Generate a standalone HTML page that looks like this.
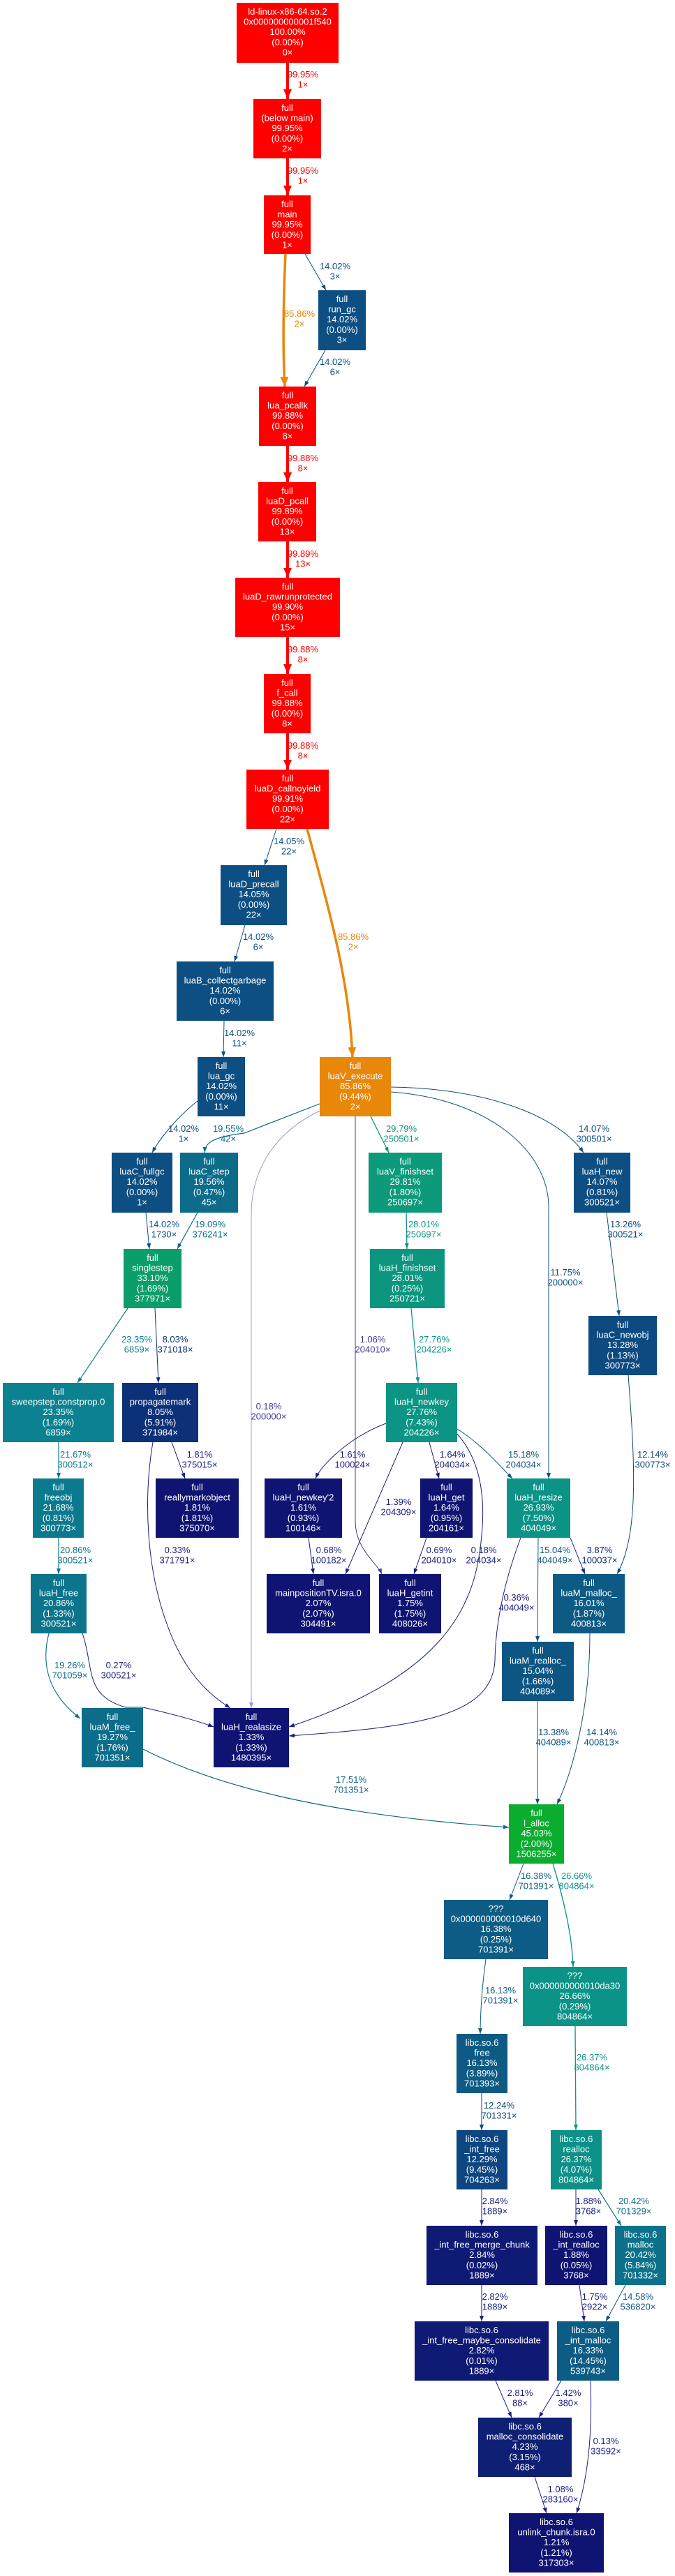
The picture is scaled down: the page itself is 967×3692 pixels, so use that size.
<!DOCTYPE html>
<html><head><meta charset="utf-8"><style>
html,body{margin:0;padding:0;background:#fff;}
svg{display:block;}
.nt{font-family:"Liberation Sans",sans-serif;font-size:13px;fill:#fff;text-anchor:middle;}
.lb{font-family:"Liberation Sans",sans-serif;font-size:13px;text-anchor:middle;}
</style></head><body>
<svg width="967" height="3692" viewBox="0 0 967 3692" xmlns="http://www.w3.org/2000/svg">
<defs>
<marker id="mR" markerUnits="userSpaceOnUse" markerWidth="14" markerHeight="14" refX="14" refY="7" orient="auto"><path d="M0,1 L14,7 L0,13 z" fill="#ff0000"/></marker>
<marker id="mO" markerUnits="userSpaceOnUse" markerWidth="14" markerHeight="14" refX="14" refY="7" orient="auto"><path d="M0,1 L14,7 L0,13 z" fill="#e8870a"/></marker>
<marker id="mB" markerUnits="userSpaceOnUse" markerWidth="8" markerHeight="6" refX="8" refY="3" orient="auto"><path d="M0,0 L8,3 L0,6 z" fill="#0d4f82"/></marker>
<marker id="mS" markerUnits="userSpaceOnUse" markerWidth="8" markerHeight="6" refX="8" refY="3" orient="auto"><path d="M0,0 L8,3 L0,6 z" fill="#0c6c8a"/></marker>
<marker id="mT" markerUnits="userSpaceOnUse" markerWidth="8" markerHeight="6" refX="8" refY="3" orient="auto"><path d="M0,0 L8,3 L0,6 z" fill="#0c9a7b"/></marker>
<marker id="mT2" markerUnits="userSpaceOnUse" markerWidth="8" markerHeight="6" refX="8" refY="3" orient="auto"><path d="M0,0 L8,3 L0,6 z" fill="#0c9484"/></marker>
<marker id="mC" markerUnits="userSpaceOnUse" markerWidth="8" markerHeight="6" refX="8" refY="3" orient="auto"><path d="M0,0 L8,3 L0,6 z" fill="#0c8190"/></marker>
<marker id="mP" markerUnits="userSpaceOnUse" markerWidth="8" markerHeight="6" refX="8" refY="3" orient="auto"><path d="M0,0 L8,3 L0,6 z" fill="#0d3178"/></marker>
<marker id="mF" markerUnits="userSpaceOnUse" markerWidth="8" markerHeight="6" refX="8" refY="3" orient="auto"><path d="M0,0 L8,3 L0,6 z" fill="#0c748b"/></marker>
<marker id="mN" markerUnits="userSpaceOnUse" markerWidth="8" markerHeight="6" refX="8" refY="3" orient="auto"><path d="M0,0 L8,3 L0,6 z" fill="#1a1f80"/></marker>
<marker id="mM" markerUnits="userSpaceOnUse" markerWidth="8" markerHeight="6" refX="8" refY="3" orient="auto"><path d="M0,0 L8,3 L0,6 z" fill="#0d5b84"/></marker>
<marker id="mD" markerUnits="userSpaceOnUse" markerWidth="8" markerHeight="6" refX="8" refY="3" orient="auto"><path d="M0,0 L8,3 L0,6 z" fill="#0c9387"/></marker>
<marker id="mI" markerUnits="userSpaceOnUse" markerWidth="8" markerHeight="6" refX="8" refY="3" orient="auto"><path d="M0,0 L8,3 L0,6 z" fill="#0d4680"/></marker>
<marker id="mK" markerUnits="userSpaceOnUse" markerWidth="8" markerHeight="6" refX="8" refY="3" orient="auto"><path d="M0,0 L8,3 L0,6 z" fill="#0c728b"/></marker>
<marker id="mL" markerUnits="userSpaceOnUse" markerWidth="8" markerHeight="6" refX="8" refY="3" orient="auto"><path d="M0,0 L8,3 L0,6 z" fill="#9a9ad6"/></marker>
<marker id="mU" markerUnits="userSpaceOnUse" markerWidth="8" markerHeight="6" refX="8" refY="3" orient="auto"><path d="M0,0 L8,3 L0,6 z" fill="#3c3c96"/></marker>
</defs>

<!-- EDGES -->
<g fill="none">
<path d="M412,90 L412,142" stroke="#ff0000" stroke-width="4" marker-end="url(#mR)"/>
<path d="M412,227 L412,280" stroke="#ff0000" stroke-width="4" marker-end="url(#mR)"/>
<path d="M409,364 C406,430 405,500 408,554" stroke="#e8870a" stroke-width="3.5" marker-end="url(#mO)"/>
<path d="M437,364 L467,416" stroke="#0d4f82" stroke-width="1" marker-end="url(#mB)"/>
<path d="M466,502 L436,554" stroke="#0d4f82" stroke-width="1" marker-end="url(#mB)"/>
<path d="M412,639 L412,691" stroke="#ff0000" stroke-width="4" marker-end="url(#mR)"/>
<path d="M412,776 L412,828" stroke="#ff0000" stroke-width="4" marker-end="url(#mR)"/>
<path d="M412,913 L412,966" stroke="#ff0000" stroke-width="4" marker-end="url(#mR)"/>
<path d="M412,1051 L412,1103" stroke="#ff0000" stroke-width="4" marker-end="url(#mR)"/>
<path d="M396,1188 L379,1240" stroke="#0d4f82" stroke-width="1" marker-end="url(#mB)"/>
<path d="M440,1188 C470,1300 500,1400 505,1515" stroke="#e8870a" stroke-width="3.5" marker-end="url(#mO)"/>
<path d="M351,1326 L336,1378" stroke="#0d4f82" stroke-width="1" marker-end="url(#mB)"/>
<path d="M321,1463 L320,1515" stroke="#0d4f82" stroke-width="1" marker-end="url(#mB)"/>
<path d="M283,1578 C255,1600 230,1630 218,1652" stroke="#0d4f82" stroke-width="1" marker-end="url(#mB)"/>
<path d="M458,1582 L350,1624 C300,1630 294,1640 293,1652" stroke="#0c6c8a" stroke-width="1.2" marker-end="url(#mS)"/>
<path d="M531,1600 L557,1652" stroke="#0c9a7b" stroke-width="1.3" marker-end="url(#mT)"/>
<path d="M560,1558 C700,1560 800,1600 836,1652" stroke="#0d4f82" stroke-width="1" marker-end="url(#mB)"/>
<path d="M560,1565 C700,1575 786,1650 786,1730 L786,2119" stroke="#0d5382" stroke-width="1" marker-end="url(#mB)"/>
<path d="M458,1592 C400,1620 360,1670 360,1740 L360,2448" stroke="#9a9ad6" stroke-width="1" marker-end="url(#mL)"/>
<path d="M509,1600 L509,2180 C509,2220 540,2240 547,2256" stroke="#3c3c96" stroke-width="1" marker-end="url(#mU)"/>
<path d="M209,1738 L214,1790" stroke="#0d4f82" stroke-width="1" marker-end="url(#mB)"/>
<path d="M283,1738 L254,1790" stroke="#0c6c8a" stroke-width="1.2" marker-end="url(#mS)"/>
<path d="M582,1738 L583,1790" stroke="#0c9484" stroke-width="1.3" marker-end="url(#mT2)"/>
<path d="M869,1738 L887,1886" stroke="#0d4a80" stroke-width="1" marker-end="url(#mB)"/>
<path d="M589,1875 L599,1982" stroke="#0c9484" stroke-width="1.3" marker-end="url(#mT2)"/>
<path d="M183,1875 L111,1982" stroke="#0c8190" stroke-width="1.2" marker-end="url(#mC)"/>
<path d="M222,1875 L227,1982" stroke="#0d3178" stroke-width="1" marker-end="url(#mP)"/>
<path d="M900,1971 C910,2100 915,2200 884,2256" stroke="#0d4780" stroke-width="1" marker-end="url(#mB)"/>
<path d="M84,2067 L84,2119" stroke="#0c7a8e" stroke-width="1.2" marker-end="url(#mF)"/>
<path d="M246,2067 L265,2119" stroke="#1a1f80" stroke-width="1" marker-end="url(#mN)"/>
<path d="M553,2040 C500,2060 460,2100 452,2119" stroke="#1a1f80" stroke-width="1" marker-end="url(#mN)"/>
<path d="M615,2067 L629,2119" stroke="#1a1f80" stroke-width="1" marker-end="url(#mN)"/>
<path d="M655,2048 C690,2070 715,2100 734,2119" stroke="#0d5683" stroke-width="1" marker-end="url(#mB)"/>
<path d="M577,2067 C550,2130 510,2220 495,2256" stroke="#1a1f80" stroke-width="1" marker-end="url(#mN)"/>
<path d="M655,2055 C690,2095 695,2150 690,2200 C682,2300 640,2400 414,2475" stroke="#1a1f80" stroke-width="1" marker-end="url(#mN)"/>
<path d="M746,2204 C725,2260 710,2320 709,2380 C705,2460 600,2475 414,2488" stroke="#1a1f80" stroke-width="1" marker-end="url(#mN)"/>
<path d="M84,2204 L84,2256" stroke="#0c748b" stroke-width="1.2" marker-end="url(#mF)"/>
<path d="M219,2067 C205,2150 210,2250 240,2330 C258,2380 285,2420 330,2448" stroke="#1a1f80" stroke-width="1" marker-end="url(#mN)"/>
<path d="M442,2204 L449,2256" stroke="#1a1f80" stroke-width="1" marker-end="url(#mN)"/>
<path d="M611,2204 L593,2256" stroke="#1a1f80" stroke-width="1" marker-end="url(#mN)"/>
<path d="M771,2204 L770,2353" stroke="#0d5583" stroke-width="1" marker-end="url(#mB)"/>
<path d="M817,2204 L838,2256" stroke="#0d2a77" stroke-width="1" marker-end="url(#mP)"/>
<path d="M70,2341 C60,2380 65,2425 115,2463" stroke="#0c6d8a" stroke-width="1.2" marker-end="url(#mS)"/>
<path d="M118,2341 C135,2390 120,2430 180,2447 L205,2447 C240,2455 280,2465 306,2475" stroke="#1a1f80" stroke-width="1" marker-end="url(#mN)"/>
<path d="M205,2507 C300,2555 450,2600 729,2619" stroke="#0c6488" stroke-width="1.2" marker-end="url(#mS)"/>
<path d="M770,2438 L770,2586" stroke="#0d4e81" stroke-width="1" marker-end="url(#mB)"/>
<path d="M845,2341 C845,2450 820,2540 798,2586" stroke="#0d5080" stroke-width="1" marker-end="url(#mB)"/>
<path d="M750,2671 L730,2723" stroke="#0d5b84" stroke-width="1" marker-end="url(#mM)"/>
<path d="M792,2671 C810,2730 820,2780 821,2819" stroke="#0c9387" stroke-width="1.3" marker-end="url(#mD)"/>
<path d="M696,2808 C690,2850 688,2890 688,2915" stroke="#0d5b84" stroke-width="1" marker-end="url(#mM)"/>
<path d="M824,2904 L825,3053" stroke="#0c9387" stroke-width="1.3" marker-end="url(#mD)"/>
<path d="M690,3000 L690,3053" stroke="#0d4680" stroke-width="1" marker-end="url(#mI)"/>
<path d="M690,3138 L690,3190" stroke="#1a1f80" stroke-width="1" marker-end="url(#mN)"/>
<path d="M825,3138 L825,3190" stroke="#1a1f80" stroke-width="1" marker-end="url(#mN)"/>
<path d="M857,3138 L890,3190" stroke="#0c728b" stroke-width="1.2" marker-end="url(#mK)"/>
<path d="M690,3275 L690,3327" stroke="#1a1f80" stroke-width="1" marker-end="url(#mN)"/>
<path d="M830,3275 L837,3327" stroke="#1a1f80" stroke-width="1" marker-end="url(#mN)"/>
<path d="M896,3275 L868,3327" stroke="#0d5683" stroke-width="1" marker-end="url(#mB)"/>
<path d="M710,3412 L733,3465" stroke="#1a1f80" stroke-width="1" marker-end="url(#mN)"/>
<path d="M804,3412 L772,3465" stroke="#1a1f80" stroke-width="1" marker-end="url(#mN)"/>
<path d="M846,3412 C848,3470 846,3540 826,3602" stroke="#1a1f80" stroke-width="1" marker-end="url(#mN)"/>
<path d="M766,3550 L783,3602" stroke="#1a1f80" stroke-width="1" marker-end="url(#mN)"/>
</g>

<!-- EDGE LABELS -->
<g class="lb">
<text x="434" y="111" fill="#ff0000">99.95%<tspan x="434" dy="14.6">1×</tspan></text>
<text x="434" y="249" fill="#ff0000">99.95%<tspan x="434" dy="14.6">1×</tspan></text>
<text x="429" y="454" fill="#e8870a">85.86%<tspan x="429" dy="14.6">2×</tspan></text>
<text x="480" y="386" fill="#0d4f82">14.02%<tspan x="480" dy="14.6">3×</tspan></text>
<text x="480" y="523" fill="#0d4f82">14.02%<tspan x="480" dy="14.6">6×</tspan></text>
<text x="434" y="661" fill="#ff0000">99.88%<tspan x="434" dy="14.6">8×</tspan></text>
<text x="434" y="798" fill="#ff0000">99.89%<tspan x="434" dy="14.6">13×</tspan></text>
<text x="434" y="935" fill="#ff0000">99.88%<tspan x="434" dy="14.6">8×</tspan></text>
<text x="434" y="1073" fill="#ff0000">99.88%<tspan x="434" dy="14.6">8×</tspan></text>
<text x="414" y="1210" fill="#0d4f82">14.05%<tspan x="414" dy="14.6">22×</tspan></text>
<text x="506" y="1347" fill="#e8870a">85.86%<tspan x="506" dy="14.6">2×</tspan></text>
<text x="370" y="1347" fill="#0d4f82">14.02%<tspan x="370" dy="14.6">6×</tspan></text>
<text x="343" y="1485" fill="#0d4f82">14.02%<tspan x="343" dy="14.6">11×</tspan></text>
<text x="263" y="1622" fill="#0d4f82">14.02%<tspan x="263" dy="14.6">1×</tspan></text>
<text x="327" y="1622" fill="#0c6c8a">19.55%<tspan x="327" dy="14.6">42×</tspan></text>
<text x="575" y="1622" fill="#0c9a7b">29.79%<tspan x="575" dy="14.6">250501×</tspan></text>
<text x="851" y="1622" fill="#0d4f82">14.07%<tspan x="851" dy="14.6">300501×</tspan></text>
<text x="235" y="1759" fill="#0d4f82">14.02%<tspan x="235" dy="14.6">1730×</tspan></text>
<text x="301" y="1759" fill="#0c6c8a">19.09%<tspan x="301" dy="14.6">376241×</tspan></text>
<text x="607" y="1759" fill="#0c9484">28.01%<tspan x="607" dy="14.6">250697×</tspan></text>
<text x="896" y="1759" fill="#0d4a80">13.26%<tspan x="896" dy="14.6">300521×</tspan></text>
<text x="810" y="1828" fill="#0d5382">11.75%<tspan x="810" dy="14.6">200000×</tspan></text>
<text x="196" y="1924" fill="#0c8190">23.35%<tspan x="196" dy="14.6">6859×</tspan></text>
<text x="251" y="1924" fill="#0d3178">8.03%<tspan x="251" dy="14.6">371018×</tspan></text>
<text x="534" y="1924" fill="#3c3c96">1.06%<tspan x="534" dy="14.6">204010×</tspan></text>
<text x="622" y="1924" fill="#0c9484">27.76%<tspan x="622" dy="14.6">204226×</tspan></text>
<text x="385" y="2020" fill="#3c3c96">0.18%<tspan x="385" dy="14.6">200000×</tspan></text>
<text x="108" y="2089" fill="#0c7a8e">21.67%<tspan x="108" dy="14.6">300512×</tspan></text>
<text x="286" y="2089" fill="#1a1f80">1.81%<tspan x="286" dy="14.6">375015×</tspan></text>
<text x="505" y="2089" fill="#1a1f80">1.61%<tspan x="505" dy="14.6">100024×</tspan></text>
<text x="648" y="2089" fill="#1a1f80">1.64%<tspan x="648" dy="14.6">204034×</tspan></text>
<text x="750" y="2089" fill="#0d5683">15.18%<tspan x="750" dy="14.6">204034×</tspan></text>
<text x="935" y="2089" fill="#0d4780">12.14%<tspan x="935" dy="14.6">300773×</tspan></text>
<text x="571" y="2157" fill="#1a1f80">1.39%<tspan x="571" dy="14.6">204309×</tspan></text>
<text x="108" y="2226" fill="#0c748b">20.86%<tspan x="108" dy="14.6">300521×</tspan></text>
<text x="254" y="2226" fill="#1a1f80">0.33%<tspan x="254" dy="14.6">371791×</tspan></text>
<text x="471" y="2226" fill="#1a1f80">0.68%<tspan x="471" dy="14.6">100182×</tspan></text>
<text x="629" y="2226" fill="#1a1f80">0.69%<tspan x="629" dy="14.6">204010×</tspan></text>
<text x="693" y="2226" fill="#1a1f80">0.18%<tspan x="693" dy="14.6">204034×</tspan></text>
<text x="795" y="2226" fill="#0d5583">15.04%<tspan x="795" dy="14.6">404049×</tspan></text>
<text x="859" y="2226" fill="#0d2a77">3.87%<tspan x="859" dy="14.6">100037×</tspan></text>
<text x="740" y="2294" fill="#1a1f80">0.36%<tspan x="740" dy="14.6">404049×</tspan></text>
<text x="100" y="2391" fill="#0c6d8a">19.26%<tspan x="100" dy="14.6">701059×</tspan></text>
<text x="170" y="2391" fill="#1a1f80">0.27%<tspan x="170" dy="14.6">300521×</tspan></text>
<text x="793" y="2487" fill="#0d4e81">13.38%<tspan x="793" dy="14.6">404089×</tspan></text>
<text x="862" y="2487" fill="#0d5080">14.14%<tspan x="862" dy="14.6">400813×</tspan></text>
<text x="503" y="2555" fill="#0c6488">17.51%<tspan x="503" dy="14.6">701351×</tspan></text>
<text x="768" y="2693" fill="#0d5b84">16.38%<tspan x="768" dy="14.6">701391×</tspan></text>
<text x="826" y="2693" fill="#0c9387">26.66%<tspan x="826" dy="14.6">804864×</tspan></text>
<text x="717" y="2857" fill="#0d5b84">16.13%<tspan x="717" dy="14.6">701391×</tspan></text>
<text x="848" y="2953" fill="#0c9387">26.37%<tspan x="848" dy="14.6">804864×</tspan></text>
<text x="715" y="3022" fill="#0d4680">12.24%<tspan x="715" dy="14.6">701331×</tspan></text>
<text x="709" y="3159" fill="#1a1f80">2.84%<tspan x="709" dy="14.6">1889×</tspan></text>
<text x="843" y="3159" fill="#1a1f80">1.88%<tspan x="843" dy="14.6">3768×</tspan></text>
<text x="908" y="3159" fill="#0c728b">20.42%<tspan x="908" dy="14.6">701329×</tspan></text>
<text x="709" y="3296" fill="#1a1f80">2.82%<tspan x="709" dy="14.6">1889×</tspan></text>
<text x="852" y="3296" fill="#1a1f80">1.75%<tspan x="852" dy="14.6">2922×</tspan></text>
<text x="914" y="3296" fill="#0d5683">14.58%<tspan x="914" dy="14.6">536820×</tspan></text>
<text x="745" y="3434" fill="#1a1f80">2.81%<tspan x="745" dy="14.6">88×</tspan></text>
<text x="814" y="3434" fill="#1a1f80">1.42%<tspan x="814" dy="14.6">380×</tspan></text>
<text x="868" y="3503" fill="#1a1f80">0.13%<tspan x="868" dy="14.6">33592×</tspan></text>
<text x="803" y="3572" fill="#1a1f80">1.08%<tspan x="803" dy="14.6">283160×</tspan></text>
</g>

<!-- NODES -->
<g>
<rect x="339" y="4" width="146" height="86" fill="#ff0000"/>
<rect x="363" y="142" width="97" height="85" fill="#ff0000"/>
<rect x="378" y="280" width="67" height="84" fill="#ff0000"/>
<rect x="456" y="416" width="68" height="86" fill="#0d4f82"/>
<rect x="371" y="554" width="82" height="85" fill="#ff0000"/>
<rect x="370" y="691" width="83" height="85" fill="#ff0000"/>
<rect x="337" y="828" width="150" height="85" fill="#ff0000"/>
<rect x="378" y="966" width="67" height="85" fill="#ff0000"/>
<rect x="353" y="1103" width="118" height="85" fill="#ff0000"/>
<rect x="316" y="1240" width="95" height="86" fill="#0d4f82"/>
<rect x="253" y="1378" width="139" height="85" fill="#0d4f82"/>
<rect x="283" y="1515" width="68" height="85" fill="#0d4f82"/>
<rect x="458" y="1515" width="102" height="85" fill="#e8870a"/>
<rect x="160" y="1652" width="87" height="86" fill="#0d4f82"/>
<rect x="258" y="1652" width="83" height="86" fill="#0c6c8a"/>
<rect x="528" y="1652" width="105" height="86" fill="#0c9a7b"/>
<rect x="822" y="1652" width="81" height="86" fill="#0d4f82"/>
<rect x="177" y="1790" width="83" height="85" fill="#0c9e6a"/>
<rect x="530" y="1790" width="107" height="85" fill="#0c967f"/>
<rect x="843" y="1886" width="98" height="85" fill="#0d4a80"/>
<rect x="4" y="1982" width="159" height="85" fill="#0c8190"/>
<rect x="175" y="1982" width="109" height="85" fill="#0d3178"/>
<rect x="553" y="1982" width="102" height="85" fill="#0c9484"/>
<rect x="223" y="2119" width="119" height="85" fill="#0f1472"/>
<rect x="379" y="2119" width="111" height="85" fill="#0f1472"/>
<rect x="602" y="2119" width="75" height="85" fill="#0f1472"/>
<rect x="726" y="2119" width="91" height="85" fill="#0c9386"/>
<rect x="47" y="2119" width="73" height="85" fill="#0c7a8e"/>
<rect x="44" y="2256" width="80" height="85" fill="#0c748b"/>
<rect x="382" y="2256" width="148" height="85" fill="#0f1472"/>
<rect x="543" y="2256" width="89" height="85" fill="#0f1472"/>
<rect x="792" y="2256" width="103" height="85" fill="#0d5b84"/>
<rect x="719" y="2353" width="103" height="85" fill="#0d5583"/>
<rect x="117" y="2448" width="88" height="85" fill="#0c6d8a"/>
<rect x="306" y="2448" width="108" height="85" fill="#0f1472"/>
<rect x="729" y="2586" width="79" height="85" fill="#0aad2e"/>
<rect x="636" y="2723" width="149" height="85" fill="#0d5c85"/>
<rect x="749" y="2819" width="149" height="85" fill="#0c9387"/>
<rect x="654" y="2915" width="73" height="85" fill="#0d5b84"/>
<rect x="654" y="3053" width="73" height="85" fill="#0d4680"/>
<rect x="789" y="3053" width="73" height="85" fill="#0c9188"/>
<rect x="611" y="3190" width="159" height="85" fill="#0f1a74"/>
<rect x="781" y="3190" width="89" height="85" fill="#0f1472"/>
<rect x="881" y="3190" width="73" height="85" fill="#0c728b"/>
<rect x="594" y="3327" width="192" height="85" fill="#0f1a74"/>
<rect x="798" y="3327" width="89" height="85" fill="#0d5c85"/>
<rect x="685" y="3465" width="134" height="85" fill="#0f2074"/>
<rect x="729" y="3602" width="136" height="85" fill="#0f1472"/>
</g>

<g class="nt">
<text x="412" y="21">ld-linux-x86-64.so.2<tspan x="412" dy="14.6">0x000000000001f540</tspan><tspan x="412" dy="14.6">100.00%</tspan><tspan x="412" dy="14.6">(0.00%)</tspan><tspan x="412" dy="14.6">0×</tspan></text>
<text x="411.5" y="159">full<tspan x="411.5" dy="14.6">(below main)</tspan><tspan x="411.5" dy="14.6">99.95%</tspan><tspan x="411.5" dy="14.6">(0.00%)</tspan><tspan x="411.5" dy="14.6">2×</tspan></text>
<text x="411.5" y="297">full<tspan x="411.5" dy="14.6">main</tspan><tspan x="411.5" dy="14.6">99.95%</tspan><tspan x="411.5" dy="14.6">(0.00%)</tspan><tspan x="411.5" dy="14.6">1×</tspan></text>
<text x="490" y="433">full<tspan x="490" dy="14.6">run_gc</tspan><tspan x="490" dy="14.6">14.02%</tspan><tspan x="490" dy="14.6">(0.00%)</tspan><tspan x="490" dy="14.6">3×</tspan></text>
<text x="412" y="571">full<tspan x="412" dy="14.6">lua_pcallk</tspan><tspan x="412" dy="14.6">99.88%</tspan><tspan x="412" dy="14.6">(0.00%)</tspan><tspan x="412" dy="14.6">8×</tspan></text>
<text x="411.5" y="708">full<tspan x="411.5" dy="14.6">luaD_pcall</tspan><tspan x="411.5" dy="14.6">99.89%</tspan><tspan x="411.5" dy="14.6">(0.00%)</tspan><tspan x="411.5" dy="14.6">13×</tspan></text>
<text x="412" y="845">full<tspan x="412" dy="14.6">luaD_rawrunprotected</tspan><tspan x="412" dy="14.6">99.90%</tspan><tspan x="412" dy="14.6">(0.00%)</tspan><tspan x="412" dy="14.6">15×</tspan></text>
<text x="411.5" y="983">full<tspan x="411.5" dy="14.6">f_call</tspan><tspan x="411.5" dy="14.6">99.88%</tspan><tspan x="411.5" dy="14.6">(0.00%)</tspan><tspan x="411.5" dy="14.6">8×</tspan></text>
<text x="412" y="1120">full<tspan x="412" dy="14.6">luaD_callnoyield</tspan><tspan x="412" dy="14.6">99.91%</tspan><tspan x="412" dy="14.6">(0.00%)</tspan><tspan x="412" dy="14.6">22×</tspan></text>
<text x="363.5" y="1257">full<tspan x="363.5" dy="14.6">luaD_precall</tspan><tspan x="363.5" dy="14.6">14.05%</tspan><tspan x="363.5" dy="14.6">(0.00%)</tspan><tspan x="363.5" dy="14.6">22×</tspan></text>
<text x="322.5" y="1395">full<tspan x="322.5" dy="14.6">luaB_collectgarbage</tspan><tspan x="322.5" dy="14.6">14.02%</tspan><tspan x="322.5" dy="14.6">(0.00%)</tspan><tspan x="322.5" dy="14.6">6×</tspan></text>
<text x="317" y="1532">full<tspan x="317" dy="14.6">lua_gc</tspan><tspan x="317" dy="14.6">14.02%</tspan><tspan x="317" dy="14.6">(0.00%)</tspan><tspan x="317" dy="14.6">11×</tspan></text>
<text x="509" y="1532">full<tspan x="509" dy="14.6">luaV_execute</tspan><tspan x="509" dy="14.6">85.86%</tspan><tspan x="509" dy="14.6">(9.44%)</tspan><tspan x="509" dy="14.6">2×</tspan></text>
<text x="203.5" y="1669">full<tspan x="203.5" dy="14.6">luaC_fullgc</tspan><tspan x="203.5" dy="14.6">14.02%</tspan><tspan x="203.5" dy="14.6">(0.00%)</tspan><tspan x="203.5" dy="14.6">1×</tspan></text>
<text x="299.5" y="1669">full<tspan x="299.5" dy="14.6">luaC_step</tspan><tspan x="299.5" dy="14.6">19.56%</tspan><tspan x="299.5" dy="14.6">(0.47%)</tspan><tspan x="299.5" dy="14.6">45×</tspan></text>
<text x="580.5" y="1669">full<tspan x="580.5" dy="14.6">luaV_finishset</tspan><tspan x="580.5" dy="14.6">29.81%</tspan><tspan x="580.5" dy="14.6">(1.80%)</tspan><tspan x="580.5" dy="14.6">250697×</tspan></text>
<text x="862.5" y="1669">full<tspan x="862.5" dy="14.6">luaH_new</tspan><tspan x="862.5" dy="14.6">14.07%</tspan><tspan x="862.5" dy="14.6">(0.81%)</tspan><tspan x="862.5" dy="14.6">300521×</tspan></text>
<text x="218.5" y="1807">full<tspan x="218.5" dy="14.6">singlestep</tspan><tspan x="218.5" dy="14.6">33.10%</tspan><tspan x="218.5" dy="14.6">(1.69%)</tspan><tspan x="218.5" dy="14.6">377971×</tspan></text>
<text x="583.5" y="1807">full<tspan x="583.5" dy="14.6">luaH_finishset</tspan><tspan x="583.5" dy="14.6">28.01%</tspan><tspan x="583.5" dy="14.6">(0.25%)</tspan><tspan x="583.5" dy="14.6">250721×</tspan></text>
<text x="892" y="1903">full<tspan x="892" dy="14.6">luaC_newobj</tspan><tspan x="892" dy="14.6">13.28%</tspan><tspan x="892" dy="14.6">(1.13%)</tspan><tspan x="892" dy="14.6">300773×</tspan></text>
<text x="83.5" y="1999">full<tspan x="83.5" dy="14.6">sweepstep.constprop.0</tspan><tspan x="83.5" dy="14.6">23.35%</tspan><tspan x="83.5" dy="14.6">(1.69%)</tspan><tspan x="83.5" dy="14.6">6859×</tspan></text>
<text x="229.5" y="1999">full<tspan x="229.5" dy="14.6">propagatemark</tspan><tspan x="229.5" dy="14.6">8.05%</tspan><tspan x="229.5" dy="14.6">(5.91%)</tspan><tspan x="229.5" dy="14.6">371984×</tspan></text>
<text x="604" y="1999">full<tspan x="604" dy="14.6">luaH_newkey</tspan><tspan x="604" dy="14.6">27.76%</tspan><tspan x="604" dy="14.6">(7.43%)</tspan><tspan x="604" dy="14.6">204226×</tspan></text>
<text x="282.5" y="2136">full<tspan x="282.5" dy="14.6">reallymarkobject</tspan><tspan x="282.5" dy="14.6">1.81%</tspan><tspan x="282.5" dy="14.6">(1.81%)</tspan><tspan x="282.5" dy="14.6">375070×</tspan></text>
<text x="434.5" y="2136">full<tspan x="434.5" dy="14.6">luaH_newkey'2</tspan><tspan x="434.5" dy="14.6">1.61%</tspan><tspan x="434.5" dy="14.6">(0.93%)</tspan><tspan x="434.5" dy="14.6">100146×</tspan></text>
<text x="639.5" y="2136">full<tspan x="639.5" dy="14.6">luaH_get</tspan><tspan x="639.5" dy="14.6">1.64%</tspan><tspan x="639.5" dy="14.6">(0.95%)</tspan><tspan x="639.5" dy="14.6">204161×</tspan></text>
<text x="771.5" y="2136">full<tspan x="771.5" dy="14.6">luaH_resize</tspan><tspan x="771.5" dy="14.6">26.93%</tspan><tspan x="771.5" dy="14.6">(7.50%)</tspan><tspan x="771.5" dy="14.6">404049×</tspan></text>
<text x="83.5" y="2136">full<tspan x="83.5" dy="14.6">freeobj</tspan><tspan x="83.5" dy="14.6">21.68%</tspan><tspan x="83.5" dy="14.6">(0.81%)</tspan><tspan x="83.5" dy="14.6">300773×</tspan></text>
<text x="84" y="2273">full<tspan x="84" dy="14.6">luaH_free</tspan><tspan x="84" dy="14.6">20.86%</tspan><tspan x="84" dy="14.6">(1.33%)</tspan><tspan x="84" dy="14.6">300521×</tspan></text>
<text x="456" y="2273">full<tspan x="456" dy="14.6">mainpositionTV.isra.0</tspan><tspan x="456" dy="14.6">2.07%</tspan><tspan x="456" dy="14.6">(2.07%)</tspan><tspan x="456" dy="14.6">304491×</tspan></text>
<text x="587.5" y="2273">full<tspan x="587.5" dy="14.6">luaH_getint</tspan><tspan x="587.5" dy="14.6">1.75%</tspan><tspan x="587.5" dy="14.6">(1.75%)</tspan><tspan x="587.5" dy="14.6">408026×</tspan></text>
<text x="843.5" y="2273">full<tspan x="843.5" dy="14.6">luaM_malloc_</tspan><tspan x="843.5" dy="14.6">16.01%</tspan><tspan x="843.5" dy="14.6">(1.87%)</tspan><tspan x="843.5" dy="14.6">400813×</tspan></text>
<text x="770.5" y="2370">full<tspan x="770.5" dy="14.6">luaM_realloc_</tspan><tspan x="770.5" dy="14.6">15.04%</tspan><tspan x="770.5" dy="14.6">(1.66%)</tspan><tspan x="770.5" dy="14.6">404089×</tspan></text>
<text x="161" y="2465">full<tspan x="161" dy="14.6">luaM_free_</tspan><tspan x="161" dy="14.6">19.27%</tspan><tspan x="161" dy="14.6">(1.76%)</tspan><tspan x="161" dy="14.6">701351×</tspan></text>
<text x="360" y="2465">full<tspan x="360" dy="14.6">luaH_realasize</tspan><tspan x="360" dy="14.6">1.33%</tspan><tspan x="360" dy="14.6">(1.33%)</tspan><tspan x="360" dy="14.6">1480395×</tspan></text>
<text x="768.5" y="2603">full<tspan x="768.5" dy="14.6">l_alloc</tspan><tspan x="768.5" dy="14.6">45.03%</tspan><tspan x="768.5" dy="14.6">(2.00%)</tspan><tspan x="768.5" dy="14.6">1506255×</tspan></text>
<text x="710.5" y="2740">???<tspan x="710.5" dy="14.6">0x000000000010d640</tspan><tspan x="710.5" dy="14.6">16.38%</tspan><tspan x="710.5" dy="14.6">(0.25%)</tspan><tspan x="710.5" dy="14.6">701391×</tspan></text>
<text x="823.5" y="2836">???<tspan x="823.5" dy="14.6">0x000000000010da30</tspan><tspan x="823.5" dy="14.6">26.66%</tspan><tspan x="823.5" dy="14.6">(0.29%)</tspan><tspan x="823.5" dy="14.6">804864×</tspan></text>
<text x="690.5" y="2932">libc.so.6<tspan x="690.5" dy="14.6">free</tspan><tspan x="690.5" dy="14.6">16.13%</tspan><tspan x="690.5" dy="14.6">(3.89%)</tspan><tspan x="690.5" dy="14.6">701393×</tspan></text>
<text x="690.5" y="3070">libc.so.6<tspan x="690.5" dy="14.6">_int_free</tspan><tspan x="690.5" dy="14.6">12.29%</tspan><tspan x="690.5" dy="14.6">(9.45%)</tspan><tspan x="690.5" dy="14.6">704263×</tspan></text>
<text x="825.5" y="3070">libc.so.6<tspan x="825.5" dy="14.6">realloc</tspan><tspan x="825.5" dy="14.6">26.37%</tspan><tspan x="825.5" dy="14.6">(4.07%)</tspan><tspan x="825.5" dy="14.6">804864×</tspan></text>
<text x="690.5" y="3207">libc.so.6<tspan x="690.5" dy="14.6">_int_free_merge_chunk</tspan><tspan x="690.5" dy="14.6">2.84%</tspan><tspan x="690.5" dy="14.6">(0.02%)</tspan><tspan x="690.5" dy="14.6">1889×</tspan></text>
<text x="825.5" y="3207">libc.so.6<tspan x="825.5" dy="14.6">_int_realloc</tspan><tspan x="825.5" dy="14.6">1.88%</tspan><tspan x="825.5" dy="14.6">(0.05%)</tspan><tspan x="825.5" dy="14.6">3768×</tspan></text>
<text x="917.5" y="3207">libc.so.6<tspan x="917.5" dy="14.6">malloc</tspan><tspan x="917.5" dy="14.6">20.42%</tspan><tspan x="917.5" dy="14.6">(5.84%)</tspan><tspan x="917.5" dy="14.6">701332×</tspan></text>
<text x="690" y="3344">libc.so.6<tspan x="690" dy="14.6">_int_free_maybe_consolidate</tspan><tspan x="690" dy="14.6">2.82%</tspan><tspan x="690" dy="14.6">(0.01%)</tspan><tspan x="690" dy="14.6">1889×</tspan></text>
<text x="842.5" y="3344">libc.so.6<tspan x="842.5" dy="14.6">_int_malloc</tspan><tspan x="842.5" dy="14.6">16.33%</tspan><tspan x="842.5" dy="14.6">(14.45%)</tspan><tspan x="842.5" dy="14.6">539743×</tspan></text>
<text x="752" y="3482">libc.so.6<tspan x="752" dy="14.6">malloc_consolidate</tspan><tspan x="752" dy="14.6">4.23%</tspan><tspan x="752" dy="14.6">(3.15%)</tspan><tspan x="752" dy="14.6">468×</tspan></text>
<text x="797" y="3619">libc.so.6<tspan x="797" dy="14.6">unlink_chunk.isra.0</tspan><tspan x="797" dy="14.6">1.21%</tspan><tspan x="797" dy="14.6">(1.21%)</tspan><tspan x="797" dy="14.6">317303×</tspan></text>
</g>
</svg>
</body></html>
